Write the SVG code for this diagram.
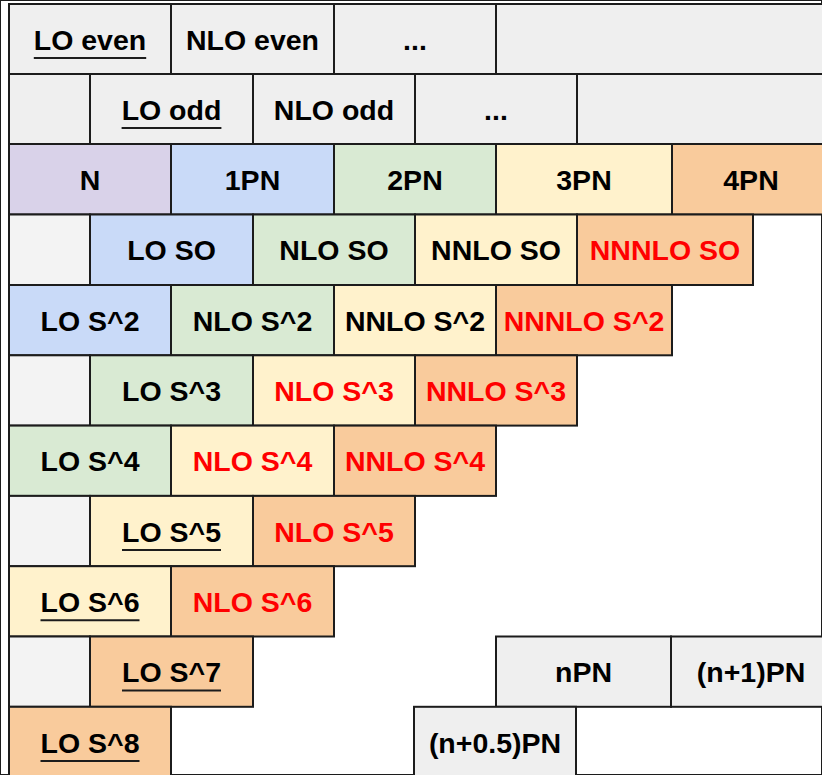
<svg xmlns="http://www.w3.org/2000/svg" width="822" height="775" viewBox="0 0 822 775">
<style>
rect{stroke:#1c1c1c;stroke-width:2}
.h{fill:#efefef}.e{fill:#f3f3f3}.p{fill:#d9d2e9}.b{fill:#c9daf8}.g{fill:#d9ead3}.y{fill:#fff2cc}.o{fill:#f9cb9c}
text{font-family:"Liberation Sans",Arial,sans-serif;font-weight:bold;font-size:28.5px;text-anchor:middle;fill:#000}
text.r{fill:#ff0000}
line.u{stroke:#1c1c1c;stroke-width:2}
</style>
<rect x="0" y="0" width="822" height="775" fill="#fff" stroke="none"/>
<g id="row1">
<g id="lo-even"><rect class="h" x="9" y="4" width="162" height="70"/><text x="90" y="49.5">LO even</text><line class="u" x1="33.8" y1="58" x2="146.2" y2="58"/></g>
<g id="nlo-even"><rect class="h" x="171" y="4" width="163" height="70"/><text x="252.5" y="49.5">NLO even</text></g>
<g id="even-dots"><rect class="h" x="334" y="4" width="162" height="70"/><text x="415" y="49.5">...</text></g>
<g id="even-rest"><rect class="h" x="496" y="4" width="340" height="70"/></g>
</g>
<g id="row2">
<g id="odd-blank"><rect class="h" x="9" y="74" width="81" height="70"/></g>
<g id="lo-odd"><rect class="h" x="90" y="74" width="163" height="70"/><text x="171.5" y="119.5">LO odd</text><line class="u" x1="121.6" y1="128" x2="221.4" y2="128"/></g>
<g id="nlo-odd"><rect class="h" x="253" y="74" width="162" height="70"/><text x="334" y="119.5">NLO odd</text></g>
<g id="odd-dots"><rect class="h" x="415" y="74" width="162" height="70"/><text x="496" y="119.5">...</text></g>
<g id="odd-rest"><rect class="h" x="577" y="74" width="260" height="70"/></g>
</g>
<g id="row3">
<g id="n"><rect class="p" x="9" y="144" width="162" height="70.5"/><text x="90" y="189.7">N</text></g>
<g id="pn1"><rect class="b" x="171" y="144" width="163" height="70.5"/><text x="252.5" y="189.7">1PN</text></g>
<g id="pn2"><rect class="g" x="334" y="144" width="162" height="70.5"/><text x="415" y="189.7">2PN</text></g>
<g id="pn3"><rect class="y" x="496" y="144" width="176" height="70.5"/><text x="584" y="189.7">3PN</text></g>
<g id="pn4"><rect class="o" x="672" y="144" width="160" height="70.5"/><text x="751" y="189.7">4PN</text></g>
</g>
<g id="row4">
<g id="so-blank"><rect class="e" x="9" y="214.5" width="81" height="70.5"/></g>
<g id="lo-so"><rect class="b" x="90" y="214.5" width="163" height="70.5"/><text x="171.5" y="260.2">LO SO</text></g>
<g id="nlo-so"><rect class="g" x="253" y="214.5" width="162" height="70.5"/><text x="334" y="260.2">NLO SO</text></g>
<g id="nnlo-so"><rect class="y" x="415" y="214.5" width="162" height="70.5"/><text x="496" y="260.2">NNLO SO</text></g>
<g id="nnnlo-so"><rect class="o" x="577" y="214.5" width="176" height="70.5"/><text class="r" x="665" y="260.2">NNNLO SO</text></g>
</g>
<g id="row5">
<g id="lo-s2"><rect class="b" x="9" y="285" width="162" height="70.3"/><text x="90" y="330.6">LO S^2</text></g>
<g id="nlo-s2"><rect class="g" x="171" y="285" width="163" height="70.3"/><text x="252.5" y="330.6">NLO S^2</text></g>
<g id="nnlo-s2"><rect class="y" x="334" y="285" width="162" height="70.3"/><text x="415" y="330.6">NNLO S^2</text></g>
<g id="nnnlo-s2"><rect class="o" x="496" y="285" width="176" height="70.3"/><text class="r" x="584" y="330.6">NNNLO S^2</text></g>
</g>
<g id="row6">
<g id="s3-blank"><rect class="e" x="9" y="355.3" width="81" height="70.3"/></g>
<g id="lo-s3"><rect class="g" x="90" y="355.3" width="163" height="70.3"/><text x="171.5" y="401">LO S^3</text></g>
<g id="nlo-s3"><rect class="y" x="253" y="355.3" width="162" height="70.3"/><text class="r" x="334" y="401">NLO S^3</text></g>
<g id="nnlo-s3"><rect class="o" x="415" y="355.3" width="162" height="70.3"/><text class="r" x="496" y="401">NNLO S^3</text></g>
</g>
<g id="row7">
<g id="lo-s4"><rect class="g" x="9" y="425.6" width="162" height="70.3"/><text x="90" y="471.3">LO S^4</text></g>
<g id="nlo-s4"><rect class="y" x="171" y="425.6" width="163" height="70.3"/><text class="r" x="252.5" y="471.3">NLO S^4</text></g>
<g id="nnlo-s4"><rect class="o" x="334" y="425.6" width="162" height="70.3"/><text class="r" x="415" y="471.3">NNLO S^4</text></g>
</g>
<g id="row8">
<g id="s5-blank"><rect class="e" x="9" y="495.9" width="81" height="70.3"/></g>
<g id="lo-s5"><rect class="y" x="90" y="495.9" width="163" height="70.3"/><text x="171.5" y="541.6">LO S^5</text><line class="u" x1="122" y1="550" x2="221" y2="550"/></g>
<g id="nlo-s5"><rect class="o" x="253" y="495.9" width="162" height="70.3"/><text class="r" x="334" y="541.6">NLO S^5</text></g>
</g>
<g id="row9">
<g id="lo-s6"><rect class="y" x="9" y="566.2" width="162" height="70.3"/><text x="90" y="611.9">LO S^6</text><line class="u" x1="40.5" y1="620.3" x2="139.5" y2="620.3"/></g>
<g id="nlo-s6"><rect class="o" x="171" y="566.2" width="163" height="70.3"/><text class="r" x="252.5" y="611.9">NLO S^6</text></g>
</g>
<g id="row10">
<g id="s7-blank"><rect class="e" x="9" y="636.5" width="81" height="70.3"/></g>
<g id="lo-s7"><rect class="o" x="90" y="636.5" width="163" height="70.3"/><text x="171.5" y="682.2">LO S^7</text><line class="u" x1="122" y1="690.6" x2="221" y2="690.6"/></g>
<g id="npn"><rect class="h" x="496" y="636.5" width="175" height="70.3"/><text x="583.5" y="682.2">nPN</text></g>
<g id="n1pn"><rect class="h" x="671" y="636.5" width="170" height="70.3"/><text x="751" y="682.2">(n+1)PN</text></g>
</g>
<g id="row11">
<g id="lo-s8"><rect class="o" x="9" y="706.8" width="162" height="80"/><text x="90" y="752.5">LO S^8</text><line class="u" x1="40.5" y1="761" x2="139.5" y2="761"/></g>
<g id="n05pn"><rect class="h" x="414" y="706.8" width="162" height="80"/><text x="495" y="752.5">(n+0.5)PN</text></g>
</g>
<g id="connectors"/>
</svg>
